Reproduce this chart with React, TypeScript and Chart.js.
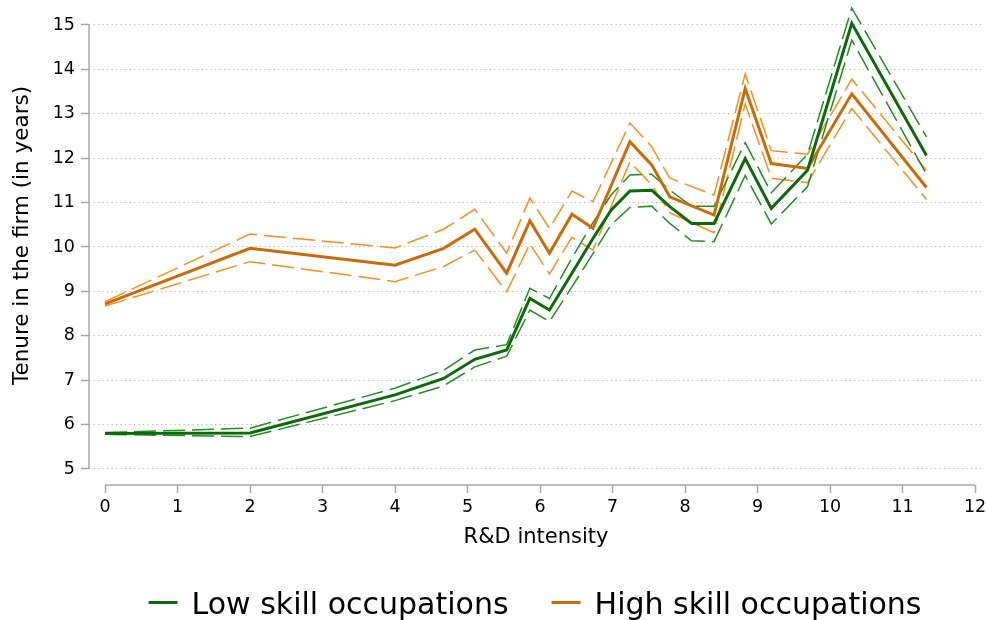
import React, { useEffect, useRef } from "react";
import { Chart, registerables } from "chart.js";

Chart.register(...registerables);

// ---- Data ----
const LOW_X = [0, 2, 4, 4.67, 5.1, 5.54, 5.86, 6.13, 6.44, 6.73, 6.98, 7.24, 7.54, 7.79, 8.09, 8.4, 8.83, 9.19, 9.69, 10.3, 11.33];
const LOW_MEAN = [5.8, 5.81, 6.67, 7.04, 7.47, 7.68, 8.84, 8.58, 9.41, 10.19, 10.83, 11.26, 11.28, 10.91, 10.53, 10.53, 11.99, 10.87, 11.73, 15.04, 12.06];
const LOW_UPPER = [5.82, 5.92, 6.82, 7.22, 7.68, 7.8, 9.07, 8.84, 9.75, 10.55, 11.17, 11.62, 11.64, 11.28, 10.92, 10.92, 12.35, 11.22, 12.09, 15.38, 12.48];
const LOW_LOWER = [5.78, 5.73, 6.54, 6.87, 7.3, 7.54, 8.58, 8.32, 9.1, 9.85, 10.5, 10.89, 10.92, 10.53, 10.14, 10.12, 11.61, 10.52, 11.36, 14.66, 11.64];

const HIGH_X = [0, 2, 4, 4.67, 5.1, 5.54, 5.86, 6.13, 6.44, 6.73, 7.24, 7.54, 7.79, 8.4, 8.83, 9.19, 9.69, 10.3, 11.33];
const HIGH_MEAN = [8.72, 9.97, 9.59, 9.97, 10.4, 9.41, 10.59, 9.86, 10.74, 10.42, 12.37, 11.85, 11.13, 10.72, 13.57, 11.88, 11.77, 13.45, 11.34];
const HIGH_UPPER = [8.77, 10.29, 9.98, 10.4, 10.85, 9.86, 11.1, 10.42, 11.26, 11.02, 12.79, 12.26, 11.55, 11.17, 13.9, 12.17, 12.09, 13.78, 11.73];
const HIGH_LOWER = [8.67, 9.67, 9.22, 9.56, 9.93, 8.99, 10.07, 9.39, 10.22, 9.93, 11.92, 11.4, 10.77, 10.32, 13.22, 11.55, 11.45, 13.12, 11.07];

const X_TICKS = [0, 1, 2, 3, 4, 5, 6, 7, 8, 9, 10, 11, 12];
const Y_TICKS = [5, 6, 7, 8, 9, 10, 11, 12, 13, 14, 15];

const X_TITLE = "R&D intensity";
const Y_TITLE = "Tenure in the firm (in years)";
const LOW_LABEL = "Low skill occupations";
const HIGH_LABEL = "High skill occupations";

// ---- Styles ----
const FONT = "'DejaVu Sans', sans-serif";
const LOW_COLOR = "#0b6b0b";
const LOW_CI_COLOR = "#1f8f1f";
const HIGH_COLOR = "#cc6a08";
const HIGH_CI_COLOR = "#ff8c1a";
const AXIS_COLOR = "#a8a8a8";
const GRID_COLOR = "#b4b4b4";

const X_MIN = -0.2207;
const X_MAX = 12.11;
const Y_MIN = 4.6396;
const Y_MAX = 15.405;

const pts = (xs: number[], ys: number[]) => xs.map((x, i) => ({ x, y: ys[i] }));

const decorPlugin = {
  id: "decor",
  afterDraw(chart: any) {
    const { ctx, chartArea } = chart;
    const x = chart.scales.x;
    const y = chart.scales.y;
    ctx.save();
    // axis lines
    ctx.strokeStyle = AXIS_COLOR;
    ctx.lineWidth = 1.5;
    ctx.setLineDash([]);
    ctx.beginPath();
    ctx.moveTo(chartArea.left, y.getPixelForValue(Y_TICKS[Y_TICKS.length - 1]));
    ctx.lineTo(chartArea.left, y.getPixelForValue(Y_TICKS[0]));
    ctx.stroke();
    ctx.beginPath();
    ctx.moveTo(x.getPixelForValue(X_TICKS[0]), chartArea.bottom);
    ctx.lineTo(x.getPixelForValue(X_TICKS[X_TICKS.length - 1]), chartArea.bottom);
    ctx.stroke();

    // y title
    ctx.save();
    const yMid = (y.getPixelForValue(Y_TICKS[0]) + y.getPixelForValue(Y_TICKS[Y_TICKS.length - 1])) / 2 - 11.5;
    ctx.translate(22, yMid);
    ctx.rotate(-Math.PI / 2);
    ctx.fillStyle = "#000";
    ctx.font = `21.5px ${FONT}`;
    ctx.textAlign = "center";
    ctx.textBaseline = "middle";
    ctx.fillText(Y_TITLE, 0, 0);
    ctx.restore();

    // legend
    ctx.font = `30px ${FONT}`;
    ctx.textBaseline = "alphabetic";
    ctx.textAlign = "left";
    const items = [
      { label: LOW_LABEL, color: LOW_COLOR },
      { label: HIGH_LABEL, color: HIGH_COLOR },
    ];
    const sw = 29, gap = 14, itemGap = 43;
    const widths = items.map((it) => ctx.measureText(it.label).width);
    const total = items.reduce((s, _it, i) => s + sw + gap + widths[i], 0) + itemGap * (items.length - 1);
    const center = (x.getPixelForValue(X_TICKS[0]) + x.getPixelForValue(X_TICKS[X_TICKS.length - 1])) / 2 - 5;
    let cx = center - total / 2;
    const baseline = 614;
    const lineY = 602.5;
    items.forEach((it, i) => {
      ctx.strokeStyle = it.color;
      ctx.lineWidth = 3;
      ctx.beginPath();
      ctx.moveTo(cx, lineY);
      ctx.lineTo(cx + sw, lineY);
      ctx.stroke();
      cx += sw + gap;
      ctx.fillStyle = "#000";
      ctx.fillText(it.label, cx, baseline);
      cx += widths[i] + itemGap;
    });
    ctx.restore();
  },
};

export default function App() {
  const ref = useRef<HTMLCanvasElement>(null);
  useEffect(() => {
    if (!ref.current) return;
    const mean = (label: string, data: any, color: string) => ({
      label,
      data,
      borderColor: color,
      backgroundColor: color,
      borderWidth: 3,
      pointRadius: 0,
      tension: 0,
      fill: false,
      clip: false as any,
    });
    const ci = (label: string, data: any, color: string) => ({
      label,
      data,
      borderColor: color,
      backgroundColor: color,
      borderWidth: 1.5,
      borderDash: [22, 7],
      pointRadius: 0,
      tension: 0,
      fill: false,
      clip: false as any,
    });
    const chart = new Chart(ref.current, {
      type: "line",
      data: {
        datasets: [
          mean(LOW_LABEL, pts(LOW_X, LOW_MEAN), LOW_COLOR),
          mean(HIGH_LABEL, pts(HIGH_X, HIGH_MEAN), HIGH_COLOR),
          ci("Low upper", pts(LOW_X, LOW_UPPER), LOW_CI_COLOR),
          ci("Low lower", pts(LOW_X, LOW_LOWER), LOW_CI_COLOR),
          ci("High upper", pts(HIGH_X, HIGH_UPPER), HIGH_CI_COLOR),
          ci("High lower", pts(HIGH_X, HIGH_LOWER), HIGH_CI_COLOR),
        ],
      },
      options: {
        animation: false,
        responsive: false,
        devicePixelRatio: 1,
        layout: { padding: { top: 7, right: 5, bottom: 0, left: 0 } },
        plugins: {
          legend: { display: false },
          tooltip: { enabled: false },
        },
        scales: {
          x: {
            type: "linear",
            min: X_MIN,
            max: X_MAX,
            afterBuildTicks: (s: any) => {
              s.ticks = X_TICKS.map((v) => ({ value: v }));
            },
            afterFit: (s: any) => {
              s.height = 135;
              s.paddingLeft = 0;
              s.paddingRight = 0;
            },
            grid: {
              display: true,
              drawOnChartArea: false,
              drawTicks: true,
              tickLength: 8,
              tickColor: AXIS_COLOR,
              tickWidth: 1.5,
            },
            border: { display: false },
            ticks: {
              color: "#000",
              font: { family: FONT, size: 17.5 },
              padding: 4,
              maxRotation: 0,
              autoSkip: false,
              callback: (v: any) => String(v),
            },
            title: {
              display: true,
              text: X_TITLE,
              color: "#000",
              font: { family: FONT, size: 21 },
              padding: { top: 0, bottom: 70 },
            },
          },
          y: {
            type: "linear",
            min: Y_MIN,
            max: Y_MAX,
            afterBuildTicks: (s: any) => {
              s.ticks = Y_TICKS.map((v) => ({ value: v }));
            },
            afterFit: (s: any) => {
              s.width = 89;
              s.paddingTop = 0;
              s.paddingBottom = 0;
            },
            grid: {
              display: true,
              color: GRID_COLOR,
              lineWidth: 1,
              drawOnChartArea: true,
              drawTicks: true,
              tickLength: 8,
              tickColor: AXIS_COLOR,
              tickWidth: 1.5,
              tickBorderDash: [],
            } as any,
            border: { display: false, dash: [1.2, 3.3] },
            ticks: {
              color: "#000",
              font: { family: FONT, size: 17.5 },
              padding: 6,
              autoSkip: false,
              callback: (v: any) => String(v),
            },
          },
        },
      },
      plugins: [decorPlugin],
    } as any);
    return () => chart.destroy();
  }, []);

  return (
    <div style={{ position: "absolute", left: 0, top: 0, width: 988, height: 620, background: "#fff" }}>
      <canvas ref={ref} width={988} height={620} style={{ display: "block", width: 988, height: 620 }} />
    </div>
  );
}
